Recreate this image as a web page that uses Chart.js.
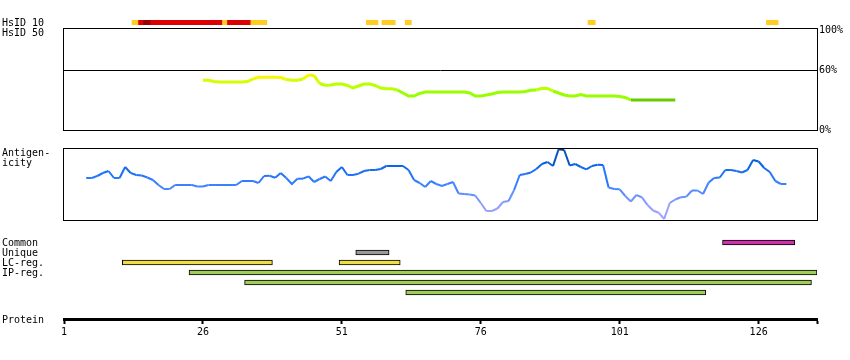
<!DOCTYPE html>
<html>
<head>
<meta charset="utf-8">
<script src="https://cdn.jsdelivr.net/npm/chart.js@4/dist/chart.umd.min.js"></script>
<style>
  body { margin: 0; background: #fff; }
  #wrap { position: relative; width: 850px; height: 360px; overflow: hidden; background: #fff; }
  #wrap canvas { position: absolute; left: 0; top: 0; }
  .lbl { position: absolute; left: 2px; font: 10px "DejaVu Sans Mono", monospace; line-height: 10px; color: #000; white-space: pre; }
</style>
</head>
<body>
<div id="wrap">
  <canvas id="hsid10Chart" width="850" height="360"></canvas>
  <canvas id="hsid50Chart" width="850" height="360"></canvas>
  <canvas id="antiChart" width="850" height="360"></canvas>
  <canvas id="trackChart" width="850" height="360"></canvas>
  <canvas id="proteinChart" width="850" height="360"></canvas>
  <div class="lbl" style="top:18px">HsID 10</div>
  <div class="lbl" style="top:28px">HsID 50</div>
  <div class="lbl" style="top:148px">Antigen-<br>icity</div>
  <div class="lbl" style="top:238px">Common</div>
  <div class="lbl" style="top:248px">Unique</div>
  <div class="lbl" style="top:258px">LC-reg.</div>
  <div class="lbl" style="top:268px">IP-reg.</div>
  <div class="lbl" style="top:315px">Protein</div>
</div>
<script>
// protein axis
const residueMin = 1;
const residueMax = 136.5;
const proteinTicks = [1, 26, 51, 76, 101, 126];

// HsID 10 strip: segment start / end (residue units) and identity level
const hsid10Start = [13.25, 14.3, 15.2, 16.5, 29.4, 30.3, 34.5, 55.4, 58.2, 62.4, 95.3, 127.4];
const hsid10End   = [14.3, 15.2, 16.5, 29.4, 30.3, 34.5, 37.5, 57.5, 60.6, 63.5, 96.6, 129.5];
const hsid10Level = ["mid", "high", "top", "high", "mid", "high", "mid", "mid", "mid", "mid", "mid", "mid"];

// HsID 50 line, % identity, residues 26..111
const hsid50First = 26;
const hsid50 = [
  49.7, 49.7, 48.5, 48, 48, 48, 48, 48, 48.5, 51,
  52.7, 52.7, 52.7, 52.7, 52.5, 50.5, 49.7, 49.7, 51, 55,
  54.5, 46.5, 44.7, 45, 46, 46, 44.5, 42, 44, 46,
  46, 44.5, 42, 41.3, 41.3, 40, 37, 34, 34, 36.5,
  38, 38, 38, 38, 38, 38, 38, 38, 37, 34,
  34, 35, 36, 37.5, 38, 38, 38, 38, 38.5, 39.7,
  40, 41.7, 41.5, 39, 37, 35, 34, 34, 35.5, 34,
  34, 34, 34, 34, 34, 33.5, 32.5, 30, 30, 30,
  30, 30, 30, 30, 30, 30
];

// antigenicity, residues 5..131
const antiFirst = 5;
const antigenicity = [
  42, 42, 44, 47, 49, 42, 42, 53, 47, 45,
  44.5, 42.5, 40, 35, 31, 31, 35, 35, 35, 35,
  33.5, 33.5, 35, 35, 35, 35, 35, 35, 39, 39,
  39, 37, 44, 44.3, 42.3, 47, 42, 36, 41.3, 41.3,
  43.7, 38, 41, 43.5, 39, 48, 53, 45, 45, 46.3,
  49, 50, 50, 51, 54, 54, 54, 54, 50, 40,
  37, 33, 39, 36, 34, 36, 38, 26.5, 26, 25.5,
  24.5, 17, 9, 9, 11.5, 18, 19, 30, 45, 46,
  47.5, 51, 56, 58, 54, 70.7, 70, 54.5, 56, 53,
  50.7, 54, 55.3, 55, 32.5, 31, 30.7, 24, 18.5, 25,
  22.7, 15, 9.5, 7.3, 1, 17, 20.5, 22.7, 23.3, 29.5,
  29.5, 26, 37.5, 42, 42.5, 50, 50, 49, 47.5, 50,
  60, 58.5, 52, 48, 39, 36, 36
];

// region tracks (inclusive residue ranges)
const trackRows = ["Common", "Unique", "LC-reg.", "IP-reg. 1", "IP-reg. 2", "IP-reg. 3"];
const commonRegions = [[120, 132]];
const uniqueRegions = [[54, 59]];
const lcRegions = [[12, 38], [51, 61]];
const ipRegions = [[24, 136], [34, 135], [63, 116]];

const FONT = { family: "'DejaVu Sans Mono', monospace", size: 10 };
Chart.defaults.font.family = FONT.family;
Chart.defaults.font.size = FONT.size;
Chart.defaults.color = "#000";

const baseOpts = {
  responsive: false,
  animation: false,
  events: [],
  plugins: { legend: { display: false }, tooltip: { enabled: false } },
};

// black frame around a chart area
const framePlugin = {
  id: "frame",
  afterDraw(chart, args, opts) {
    if (!opts.show) return;
    const a = chart.chartArea;
    const ctx = chart.ctx;
    ctx.save();
    ctx.strokeStyle = "#000";
    ctx.lineWidth = 1;
    ctx.strokeRect(a.left - 0.5, a.top + 0.5, a.right - a.left + 1, a.bottom - a.top);
    ctx.restore();
  },
};
Chart.register(framePlugin);

function hexRgb(h) {
  return [parseInt(h.slice(1, 3), 16), parseInt(h.slice(3, 5), 16), parseInt(h.slice(5, 7), 16)];
}
function ramp(stops, v) {
  if (v <= stops[0][0]) return stops[0][1];
  for (let i = 1; i < stops.length; i++) {
    if (v <= stops[i][0]) {
      const t = (v - stops[i - 1][0]) / (stops[i][0] - stops[i - 1][0]);
      const a = hexRgb(stops[i - 1][1]), b = hexRgb(stops[i][1]);
      const c = a.map((x, k) => Math.round(x + (b[k] - x) * t));
      return `rgb(${c[0]},${c[1]},${c[2]})`;
    }
  }
  return stops[stops.length - 1][1];
}

function hsid50Color(v) {
  if (v < 31) return "#66cc00";
  if (v < 40) return "#99ff00";
  if (v < 47) return "#bbff00";
  if (v < 51) return "#d4ff00";
  if (v < 54) return "#f4f800";
  return "#ffee00";
}
const antiStops = [[0, "#aaa4ff"], [16, "#8c9cff"], [30, "#4c88ff"], [42, "#2a78ff"], [55, "#0a64e6"], [72, "#003c8c"]];

const xLinear = { type: "linear", min: residueMin, max: residueMax, display: false };

// HsID 10 strip
const levelColor = { mid: "#ffcc22", high: "#dd0000", top: "#990000" };
new Chart(document.getElementById("hsid10Chart"), {
  type: "bar",
  data: {
    labels: ["HsID 10"],
    datasets: hsid10Start.map((s, i) => ({
      data: [[s, hsid10End[i]]],
      backgroundColor: levelColor[hsid10Level[i]],
      borderWidth: 0,
      grouped: false,
      barPercentage: 1,
      categoryPercentage: 1,
    })),
  },
  options: {
    ...baseOpts,
    indexAxis: "y",
    layout: { padding: { left: 64, right: 33, top: 20, bottom: 335 } },
    scales: { x: xLinear, y: { display: false } },
  },
});

// HsID 50 line
new Chart(document.getElementById("hsid50Chart"), {
  type: "line",
  data: {
    datasets: [{
      data: hsid50.map((v, i) => ({ x: hsid50First + i, y: v })),
      borderWidth: 3,
      pointRadius: 0,
      borderColor: "#99ff00",
      segment: { borderColor: (c) => hsid50Color((c.p0.parsed.y + c.p1.parsed.y) / 2) },
    }],
  },
  options: {
    ...baseOpts,
    layout: { padding: { left: 64, right: 0, top: 28, bottom: 230 } },
    scales: {
      x: xLinear,
      y: {
        position: "right",
        min: 0,
        max: 102,
        afterFit: (s) => { s.width = 33; },
        afterBuildTicks: (s) => { s.ticks = [0, 60, 100].map((v) => ({ value: v })); },
        border: { display: false },
        grid: { drawTicks: false, color: (c) => (c.tick && c.tick.value === 60 ? "#000" : "rgba(0,0,0,0)") },
        ticks: { padding: 2, callback: (v) => v + "%" },
      },
    },
    plugins: { ...baseOpts.plugins, frame: { show: true } },
  },
});

// antigenicity line
new Chart(document.getElementById("antiChart"), {
  type: "line",
  data: {
    datasets: [{
      data: antigenicity.map((v, i) => ({ x: antiFirst + i, y: v })),
      borderWidth: 2,
      pointRadius: 0,
      borderColor: "#2a78ff",
      segment: { borderColor: (c) => ramp(antiStops, (c.p0.parsed.y + c.p1.parsed.y) / 2) },
    }],
  },
  options: {
    ...baseOpts,
    layout: { padding: { left: 64, right: 33, top: 148, bottom: 140 } },
    scales: { x: xLinear, y: { display: false, min: 0, max: 72 } },
    plugins: { ...baseOpts.plugins, frame: { show: true } },
  },
});

// region tracks
const trackSets = [];
function addRegions(regions, rowIdx, color) {
  regions.forEach((r, k) => {
    const row = typeof rowIdx === "number" ? rowIdx : rowIdx[k];
    trackSets.push({
      data: trackRows.map((_, i) => (i === row ? [r[0] - 0.5, r[1] + 0.5] : null)),
      backgroundColor: color,
      borderColor: "#000",
      borderWidth: 1,
      borderSkipped: false,
      grouped: false,
      barThickness: 5,
    });
  });
}
addRegions(commonRegions, 0, "#cc33aa");
addRegions(uniqueRegions, 1, "#999999");
addRegions(lcRegions, 2, "#eedd44");
addRegions(ipRegions, [3, 4, 5], "#a0cc5a");

new Chart(document.getElementById("trackChart"), {
  type: "bar",
  data: { labels: trackRows, datasets: trackSets },
  options: {
    ...baseOpts,
    indexAxis: "y",
    layout: { padding: { left: 64, right: 33, top: 237.5, bottom: 62.5 } },
    scales: { x: xLinear, y: { display: false } },
  },
});

// protein axis
new Chart(document.getElementById("proteinChart"), {
  type: "line",
  data: { datasets: [] },
  options: {
    ...baseOpts,
    layout: { padding: { left: 64, right: 33, top: 300, bottom: 0 } },
    scales: {
      x: {
        type: "linear",
        min: residueMin,
        max: residueMax,
        afterFit: (s) => { s.height = 41; },
        afterBuildTicks: (s) => { s.ticks = proteinTicks.concat([residueMax]).map((v) => ({ value: v })); },
        border: { display: true, width: 3, color: "#000" },
        grid: { drawOnChartArea: false, drawTicks: true, tickLength: 5, tickWidth: 2, tickColor: "#000" },
        ticks: { autoSkip: false, maxRotation: 0, padding: 2, callback: (v) => (v === residueMax ? "" : v) },
      },
      y: { display: false },
    },
  },
});
</script>
</body>
</html>
